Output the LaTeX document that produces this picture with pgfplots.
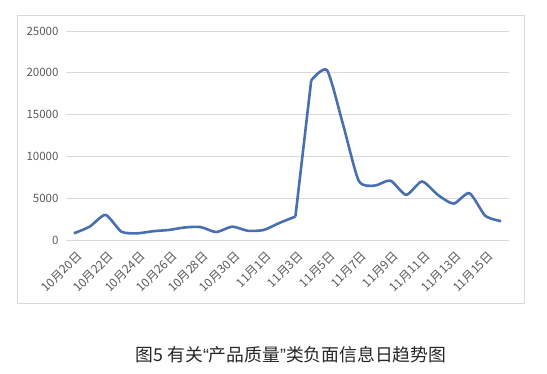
\documentclass[border=0pt]{standalone}
\usepackage{pgfplots}
\pgfplotsset{compat=1.18}
\usepackage{fontspec}
\setmainfont{Noto Sans CJK SC}
\newfontfamily\lat{Liberation Sans}
\definecolor{lineblue}{RGB}{72,112,176}
\definecolor{gridgray}{RGB}{217,217,217}
\definecolor{textgray}{RGB}{89,89,89}
\begin{document}
\begin{tikzpicture}[x=1pt,y=1pt]
\useasboundingbox (0,0) rectangle (547,374);
\draw[gridgray, line width=1pt] (17.5,358) rectangle (524,70);
\begin{axis}[
  at={(66pt,134pt)}, anchor=south west,
  scale only axis, width=443pt, height=209pt,
  xmin=-0.5, xmax=27.5, ymin=0, ymax=25000,
  ytick={0,5000,...,25000},
  scaled y ticks=false,
  ymajorgrids, grid style={gridgray, line width=0.8pt},
  axis x line*=bottom, axis y line*=left,
  y axis line style={draw=none},
  x axis line style={gridgray, line width=0.8pt, -},
  ytick style={draw=none},
  xtick={0,2,...,26},
  xticklabels={10月20日,10月22日,10月24日,10月26日,10月28日,10月30日,11月1日,11月3日,11月5日,11月7日,11月9日,11月11日,11月13日,11月15日},
  xtick style={draw=none},
  extra x ticks={-0.5,1.5,...,27.5},
  extra x tick labels={},
  extra x tick style={tick align=outside, major tick length=5pt, tick style={gridgray, line width=0.8pt, draw=gridgray}},
  x tick label style={xshift=2pt, yshift=-10pt, rotate=45, anchor=north east, font=\fontsize{12}{13}\selectfont, text=textgray, inner sep=0pt},
  y tick label style={xshift=-4pt, font=\fontsize{11.5}{13}\selectfont, text=textgray},
  /pgf/number format/assume math mode=true,
  /pgf/number format/.cd, 1000 sep={},
]
\addplot[lineblue, line width=2.6pt, smooth, tension=0.4] coordinates {
(0,800) (1,1600) (2,3000) (3,1000) (4,800) (5,1050) (6,1200) (7,1500)
(8,1550) (9,950) (10,1600) (11,1100) (12,1200) (13,2050) (14,2800)
};
\addplot[lineblue, line width=2.6pt, line join=round] coordinates {
(14,2800) (15,19100)
};
\addplot[lineblue, line width=2.6pt, smooth, tension=0.4] coordinates {
(15,19100) (16,20300) (17,13900) (18,7100) (19,6500) (20,7100) (21,5400)
(22,7000) (23,5400) (24,4350) (25,5600) (26,2900) (27,2250)
};
\end{axis}
\node[text={rgb,255:red,38;green,38;blue,38}, font=\fontsize{17.8}{20}\selectfont] at (291,19) {图5 有关{\lat “}产品质量{\lat ”}类负面信息日趋势图};
\end{tikzpicture}
\end{document}
